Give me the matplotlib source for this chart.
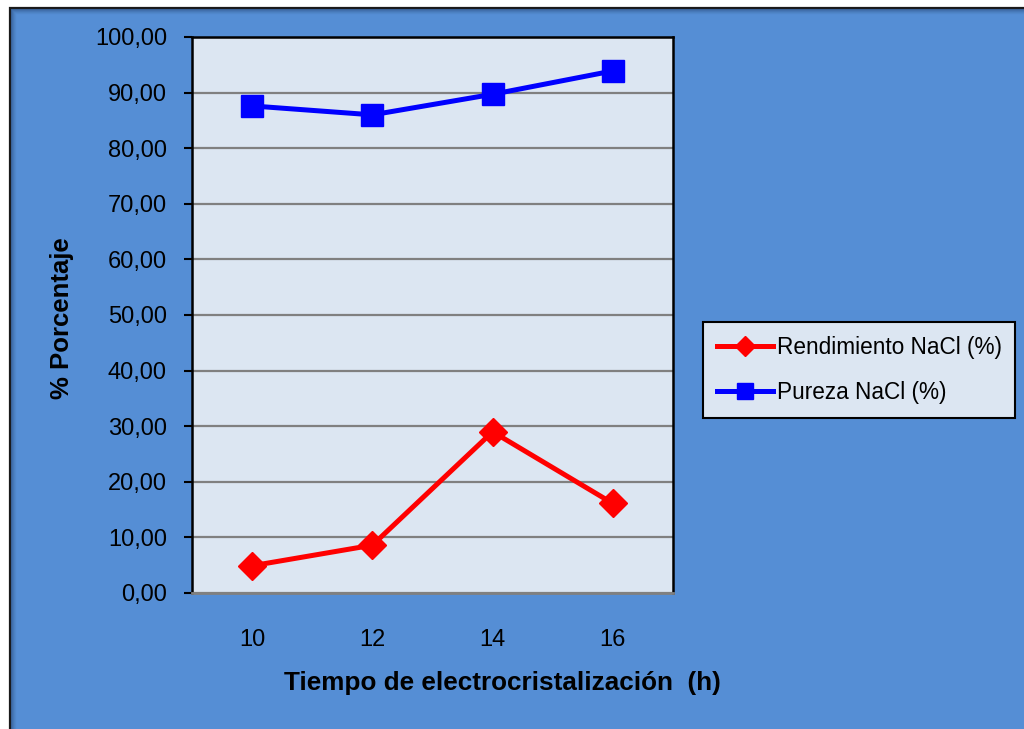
import matplotlib
matplotlib.use("Agg")
import matplotlib.pyplot as plt
from matplotlib.patches import Rectangle

plt.rcParams["font.family"] = ["Liberation Sans", "DejaVu Sans"]

# Electrocrystallization results
tiempo = ["10", "12", "14", "16"]
rendimiento = [4.9, 8.6, 29.0, 16.1]
pureza = [87.6, 86.0, 89.7, 93.9]

BLUE_BG = "#558ed5"
PLOT_BG = "#dce6f2"

fig = plt.figure(figsize=(10.24, 7.29), dpi=100, facecolor="white")

# outer chart frame with a soft shadow on the top/left edge
W, H = 1024, 729
fig.patches.append(Rectangle((10 / W, -0.05), 1.0, (H - 8) / H + 0.05,
                             transform=fig.transFigure, facecolor=BLUE_BG,
                             edgecolor="#1a1a1a", lw=1.6, zorder=-3))
for i, a in enumerate([0.35, 0.25, 0.17, 0.10, 0.05]):
    fig.patches.append(Rectangle(((11 + i) / W, -0.05), 1.0, (H - 9 - i) / H + 0.05,
                                 transform=fig.transFigure, facecolor="none",
                                 edgecolor=(0.1, 0.2, 0.35, a), lw=1.0, zorder=-2))

ax = fig.add_axes([192 / W, 1 - 593 / H, 481 / W, 556 / H])
ax.set_facecolor(PLOT_BG)
x = range(len(tiempo))
ax.plot(x, rendimiento, color="#ff0000", lw=3.6, marker="D", ms=14,
        label="Rendimiento NaCl (%)", zorder=3)
ax.plot(x, pureza, color="#0000ff", lw=3.6, marker="s", ms=15.5,
        label="Pureza NaCl (%)", zorder=3)

ax.set_xlim(-0.5, 3.5)
ax.set_ylim(0, 100)
ax.set_xticks(list(x))
ax.set_xticklabels(tiempo)
ax.set_yticks(range(0, 101, 10))
ax.set_yticklabels([f"{v},00" for v in range(0, 101, 10)])
ax.yaxis.grid(True, color="#808080", lw=1.6)
ax.set_axisbelow(True)

ax.tick_params(axis="y", length=6, width=1.5, pad=12, labelsize=17, color="black")
ax.tick_params(axis="x", length=0, pad=26, labelsize=17)

for side in ["left", "top", "right"]:
    ax.spines[side].set_color("black")
    ax.spines[side].set_linewidth(1.8)
ax.spines["bottom"].set_color("#808080")
ax.spines["bottom"].set_linewidth(2)

fig.text(62 / W, 1 - 318 / H, "% Porcentaje", rotation=90, ha="center", va="center",
         fontsize=18.5, fontweight="bold")
fig.text(502 / W, 1 - 683 / H, "Tiempo de electrocristalización  (h)", ha="center",
         va="center", fontsize=18.8, fontweight="bold")

leg = fig.legend(loc="center left", bbox_to_anchor=(703 / W, 1 - 370 / H),
                 borderaxespad=0, fontsize=16.3, frameon=True, fancybox=False,
                 handlelength=2.5, markerscale=0.75, borderpad=0.6,
                 labelspacing=1.0, handletextpad=0.15)
leg.get_frame().set_facecolor(PLOT_BG)
leg.get_frame().set_edgecolor("black")
leg.get_frame().set_linewidth(1.5)
leg.get_frame().set_alpha(1)

fig.savefig("out.png", dpi=100, facecolor=fig.get_facecolor())
